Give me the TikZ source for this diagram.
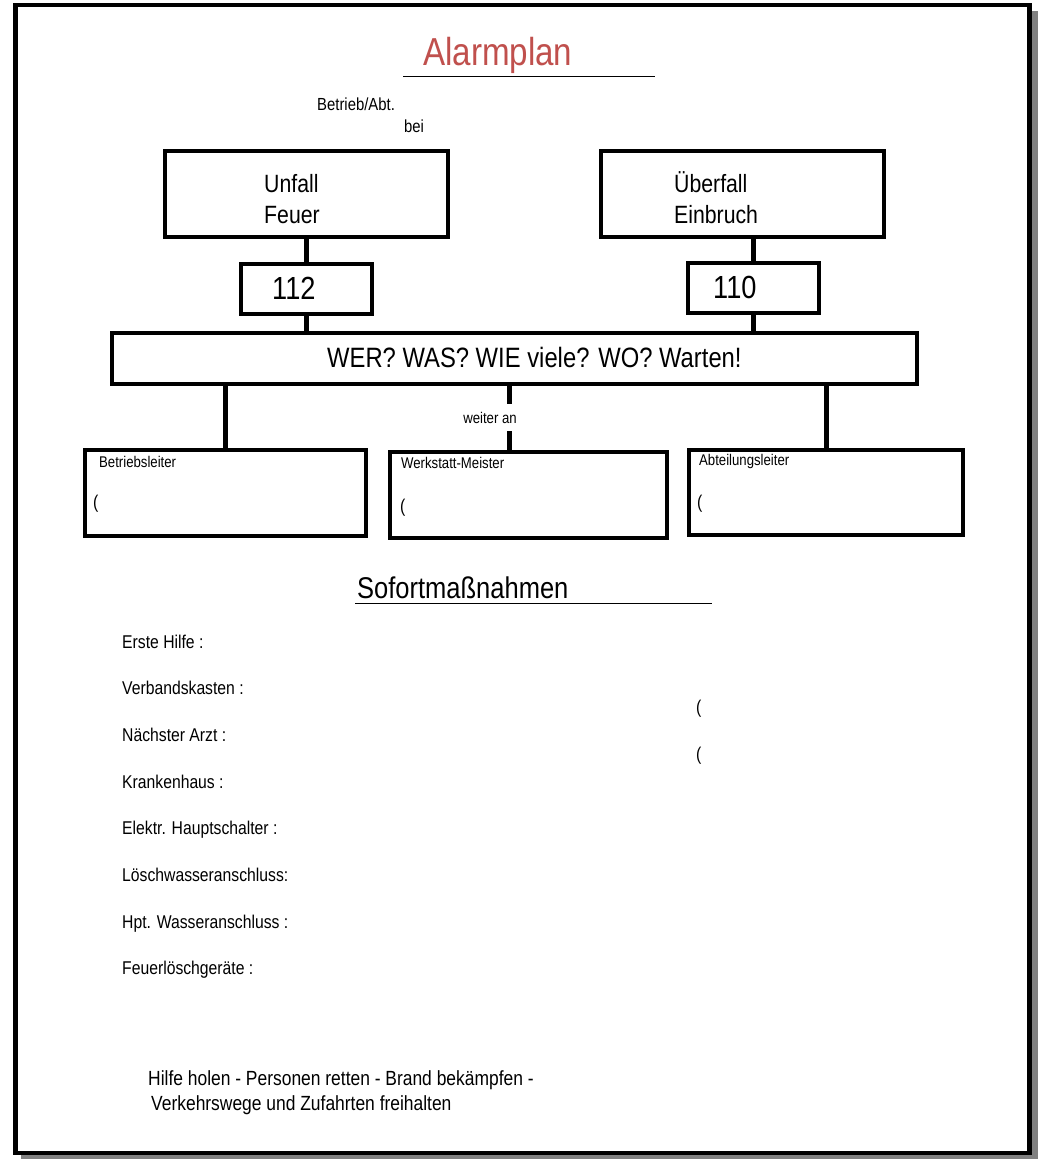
\documentclass[tikz,border=0pt]{standalone}
\usepackage{fontspec}
\setmainfont{Liberation Sans}[FakeStretch=0.85]
\usepackage{xcolor}
\usepackage{tikz}
\usetikzlibrary{positioning,calc}
\definecolor{alarmred}{HTML}{C0504D}
\definecolor{shadegray}{HTML}{808080}
\newcommand{\fsz}[2]{\fontsize{#1}{#2}\selectfont}

\begin{document}
\begin{tikzpicture}[
  x=1pt, y=-1pt,
  box/.style={draw, line width=4pt, inner sep=0pt},
  conn/.style={line width=5pt},
  txt/.style={inner sep=0pt, anchor=base west},
  small/.style={txt, font=\fsz{15.5}{19}},
  entry/.style={txt, font=\fsz{18.5}{22}},
]
\useasboundingbox (0,0) rectangle (1039,1159);
% page frame with shadow
\fill[shadegray] (21,11) rectangle (1038,1159);
\draw[line width=4.5pt, fill=white] (15.5,5) rectangle (1029.5,1153);

% header
\node[txt, text=alarmred, font=\fsz{39}{47}] (title) at (423,65) {Alarmplan};
\draw[line width=1pt] (403,76) -- (655,76);
\node[txt, font=\fsz{17.5}{21}] (abt) at (317,110) {Betrieb/Abt.};
\node[txt, font=\fsz{17.5}{21}] (bei) at (404,132) {bei};

% emergency boxes
\node[box, minimum width=283pt, minimum height=86pt] (unfall) at (306.5,194) {};
\node[box, minimum width=283pt, minimum height=86pt] (ueberfall) at (742.5,194) {};
\node[txt, align=left, font=\fsz{25}{31}] (unfalltxt) at (264,223) {Unfall\\Feuer};
\node[txt, align=left, font=\fsz{25}{31}] (ueberfalltxt) at (674,223) {Überfall\\Einbruch};

\node[box, minimum width=131pt, minimum height=50pt] (n112) at (306.5,289) {};
\node[box, minimum width=131pt, minimum height=50pt] (n110) at (753.5,288) {};
\node[txt, font=\fsz{32}{38}] (n112txt) at (272,299) {112};
\node[txt, font=\fsz{32}{38}] (n110txt) at (713,298) {110};

\node[box, minimum width=805pt, minimum height=51pt] (wer) at (514.5,358.5) {};
\node[txt, font=\fsz{28}{34}] (wertxt) at (327,367) {WER? WAS? WIE viele? WO? Warten!};

\draw[conn] (unfall.south -| n112) -- (n112.north);
\draw[conn] (n112.south) -- (n112.south |- wer.north);
\draw[conn] (ueberfall.south -| n110) -- (n110.north);
\draw[conn] (n110.south) -- (n110.south |- wer.north);

% contacts
\node[box, minimum width=281pt, minimum height=86pt] (bleiter) at (225.5,493) {};
\node[box, minimum width=277pt, minimum height=86pt] (meister) at (528.5,495) {};
\node[box, minimum width=274pt, minimum height=85pt] (aleiter) at (826,492.5) {};

\draw[conn] (wer.south -| bleiter) -- (bleiter.north);
\draw[conn] ($(wer.south)+(-5,0)$) -- ($(wer.south |- meister.north)+(-5,0)$);
\draw[conn] (wer.south -| aleiter) -- (aleiter.north);
\node[fill=white, inner xsep=2pt, inner ysep=7.5pt, font=\fsz{15.5}{19}] (weiter) at (490,417.5) {weiter an};

\node[small] (bleitertxt) at (99,467) {Betriebsleiter};
\node[small] (meistertxt) at (401,468) {Werkstatt-Meister};
\node[small] (aleitertxt) at (699,465) {Abteilungsleiter};
\node[entry] (bleitertel) at (93,508) {(};
\node[entry] (meistertel) at (400,512) {(};
\node[entry] (aleitertel) at (697,508) {(};

% immediate measures
\node[txt, font=\fsz{30}{36}] (sofort) at (357,598) {Sofortmaßnahmen};
\draw[line width=1pt] (355,603) -- (712,603);

\foreach \entrytext [count=\i from 0] in {Erste Hilfe :, Verbandskasten :, Nächster Arzt :,
    Krankenhaus :, Elektr. Hauptschalter :, Löschwasseranschluss:,
    Hpt. Wasseranschluss :, Feuerlöschgeräte :}
  \node[entry] (entry\i) at (122,{648+46.7*\i}) {\entrytext};
\node[entry] (teldoc) at (696,713) {(};
\node[entry] (telhosp) at (696,760) {(};

\node[txt, font=\fsz{20.5}{25}] (rule1) at (148,1085) {Hilfe holen - Personen retten - Brand bekämpfen -};
\node[txt, font=\fsz{20.5}{25}] (rule2) at (151,1110) {Verkehrswege und Zufahrten freihalten};
\end{tikzpicture}
\end{document}
